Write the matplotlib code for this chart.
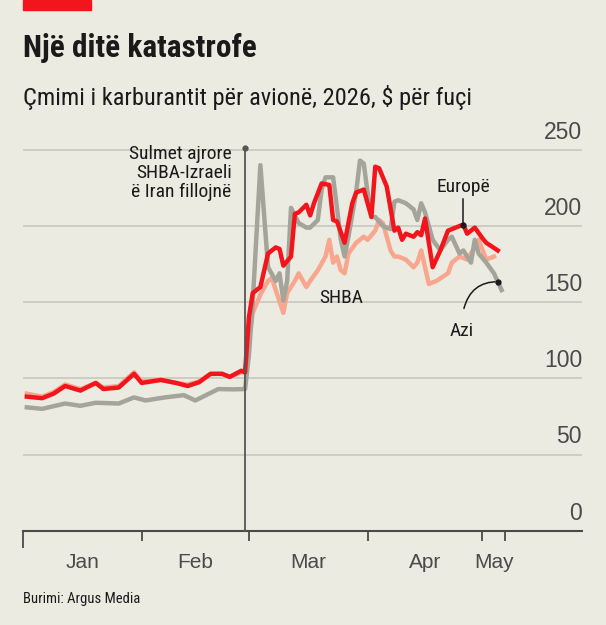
import matplotlib
matplotlib.use("Agg")
import matplotlib.pyplot as plt
import pandas as pd

# days counted from 1 Jan 2026, prices in $ per barrel
START = "2026-01-01"

EUROPE_DAYS = [1, 5, 8, 11, 15, 19, 21, 25, 29, 31, 36, 40, 43, 46, 49, 52, 54, 57, 58,
               59, 60, 62, 64, 66, 67, 68, 70, 71, 72, 74, 75, 76, 78, 80, 81, 82, 84, 86,
               87, 89, 91, 92, 93, 95, 97, 98, 99, 100, 102, 103, 104, 105, 107, 109, 111,
               113, 115, 116, 118, 120, 121, 124]
EUROPE = [88, 87, 90, 95, 92, 97, 93, 94, 103, 97, 99, 97, 95, 97.5, 103, 103, 101, 105, 104,
          140, 156, 160, 182, 186, 185, 174, 180, 208, 209, 214, 207, 215, 228, 227, 204, 203,
          189, 215, 222, 224, 206, 239, 238, 226, 197, 199, 191, 195, 193, 196, 194, 205, 173,
          184, 197, 199, 201, 195, 199, 192, 189, 184]

ASIA_DAYS = [1, 5, 11, 15, 19, 25, 29, 32, 37, 42, 45, 51, 55, 58,
             59, 60, 62, 64, 66, 67, 68, 69, 70, 72, 74, 75, 77, 78, 79, 81, 82, 83, 84, 85,
             87, 88, 89, 90, 91, 92, 94, 96, 97, 98, 100, 102, 103, 104, 105, 107, 109, 111,
             112, 114, 115, 117, 118, 119, 121, 123, 125]
ASIA = [81, 80, 83.5, 82, 84, 83.5, 87.5, 85.5, 87.5, 89, 85.5, 93, 92.8, 93,
        115, 150, 240, 173, 164, 169, 151, 164, 212, 202, 199, 199, 204, 224, 232, 232, 212,
        191, 180, 193, 222, 243, 241, 222, 206, 206, 200, 198, 216, 217, 215, 211, 204, 215,
        209, 191, 184, 191, 193, 182, 184, 176, 191, 182, 176, 169, 158]

US_DAYS = [1, 5, 8, 11, 15, 19, 21, 25, 29, 31, 36, 40, 43, 46, 49, 52, 54, 57, 58,
           59, 60, 62, 64, 65, 66, 68, 69, 71, 72, 74, 75, 77, 79, 80, 81, 82, 83, 84, 85,
           87, 89, 90, 92, 93, 94, 96, 97, 98, 100, 102, 103, 104, 106, 108, 111, 112, 114,
           116, 118, 119, 121, 123]
US = [90, 88, 91, 96, 93, 97, 94, 95, 104, 98, 99, 97, 96, 98, 103, 103, 101, 104, 104,
      125, 143, 155, 164, 166, 158, 143, 156, 164, 169, 160, 164, 171, 180, 191, 176, 180,
      171, 169, 182, 189, 193, 191, 197, 204, 202, 184, 180, 180, 178, 173, 176, 184, 162,
      164, 169, 176, 180, 178, 186, 191, 178, 180]

MONTH_TICKS = ["2026-01-01", "2026-02-01", "2026-03-01", "2026-04-01", "2026-05-01", "2026-05-07"]
MONTH_LABELS = ["Jan", "Feb", "Mar", "Apr", "May"]
Y_TICKS = [0, 50, 100, 150, 200, 250]

STRIKE_DATE = "2026-02-28"
EUROPE_LABEL_DAY = 115
ASIA_LABEL_DAY = 124

BG = "#ECEBE2"
RED = "#F2151C"
SALMON = "#F9A68E"
GREY = "#A4A49B"
TXT = "#1a1a1a"
COND = ["Roboto Condensed", "DejaVu Sans"]
REG = ["Liberation Sans", "DejaVu Sans"]

start = pd.Timestamp(START)


def to_dates(days):
    return start + pd.to_timedelta(days, unit="D")


fig = plt.figure(figsize=(6.06, 6.25), dpi=100, facecolor=BG)
ax = fig.add_axes([23 / 606, 94.3 / 625, 559 / 606, 396 / 625])
ax.set_facecolor(BG)

# header
fig.patches.append(plt.Rectangle((23 / 606, 1 - 10 / 625), 68 / 606, 10 / 625,
                                 transform=fig.transFigure, color=RED, zorder=5))
fig.text(23 / 606, 1 - 48 / 625, "Një ditë katastrofe", family=COND, fontsize=22.5,
         fontweight="bold", color=TXT, va="center", ha="left")
fig.text(23 / 606, 1 - 97 / 625, "Çmimi i karburantit për avionë, 2026, $ për fuçi",
         family=COND, fontsize=17.6, color=TXT, va="center", ha="left")
fig.text(23 / 606, 1 - 599 / 625, "Burimi: Argus Media", family=COND, fontsize=10.5,
         color=TXT, va="center", ha="left")

# lines
ax.plot(to_dates(US_DAYS), US, color=SALMON, lw=3.2, zorder=3, solid_joinstyle="round")
ax.plot(to_dates(ASIA_DAYS), ASIA, color=GREY, lw=3.2, zorder=4, solid_joinstyle="round")
ax.plot(to_dates(EUROPE_DAYS), EUROPE, color=RED, lw=3.2, zorder=5, solid_joinstyle="round")

ax.set_xlim(start, start + pd.Timedelta(days=146))
ax.set_ylim(0, 260)

# gridlines and y labels on the right, sitting above the lines
for v in Y_TICKS[1:]:
    ax.axhline(v, color="#C9C8BF", lw=1.2, zorder=1)
for v in Y_TICKS:
    ax.text(1.0, v + 4, str(v), transform=ax.get_yaxis_transform(), ha="right",
            va="bottom", family=REG, fontsize=16.5, color="#4a4a4a")
ax.set_yticks([])

for s in ["top", "right", "left"]:
    ax.spines[s].set_visible(False)
ax.spines["bottom"].set_color("#4a4a4a")
ax.spines["bottom"].set_linewidth(1.5)

ticks = pd.to_datetime(MONTH_TICKS)
ax.set_xticks(ticks)
ax.set_xticklabels([])
ax.tick_params(axis="x", which="major", length=7.5, width=1.3, color="#4a4a4a", direction="out")
mids = [ticks[i] + (ticks[i + 1] - ticks[i]) / 2 for i in range(len(ticks) - 1)]
ax.set_xticks(mids, minor=True)
ax.set_xticklabels(MONTH_LABELS, minor=True, family=REG, fontsize=15, color="#4a4a4a")
ax.tick_params(axis="x", which="minor", length=0, pad=16)
ax.xaxis.get_major_ticks()[0].tick1line.set_markersize(12.5)

# strike annotation
strike = pd.Timestamp(STRIKE_DATE)
ax.plot([strike, strike], [0, 251], color="#555555", lw=1.3, zorder=6, clip_on=False)
ax.plot([strike], [251], "o", color="#555555", ms=3.5, zorder=6, clip_on=False)
ax.text(strike - pd.Timedelta(days=3.5), 253, "Sulmet ajrore\nSHBA-Izraeli\në Iran fillojnë",
        ha="right", va="top", family=COND, fontsize=14, color=TXT, linespacing=1.05)

# series labels
eu_x = to_dates([EUROPE_LABEL_DAY])[0]
eu_y = EUROPE[EUROPE_DAYS.index(EUROPE_LABEL_DAY)]
ax.plot([eu_x, eu_x], [eu_y, eu_y + 17], color=TXT, lw=1.1, zorder=7)
ax.plot([eu_x], [eu_y], "o", color=TXT, ms=3.5, zorder=7)
ax.text(eu_x, eu_y + 19, "Europë", ha="center", va="bottom", family=COND,
        fontsize=14, color=TXT)

ax.text(to_dates([83])[0], 153, "SHBA", ha="center", va="center", family=COND,
        fontsize=14, color=TXT)

az_x = to_dates([ASIA_LABEL_DAY])[0]
i = ASIA_DAYS.index(123)
az_y = (ASIA[i] + ASIA[i + 1]) / 2
ax.plot([az_x], [az_y], "o", color=TXT, ms=3.5, zorder=7)
ax.annotate("Azi", xy=(az_x, az_y), xytext=(to_dates([114.5])[0], 131),
            ha="center", va="center", family=COND, fontsize=14, color=TXT,
            arrowprops=dict(arrowstyle="-", color=TXT, lw=1.1, shrinkA=8, shrinkB=0,
                            connectionstyle="angle3,angleA=90,angleB=0"))

fig.savefig("out.png", dpi=100, facecolor=BG)
